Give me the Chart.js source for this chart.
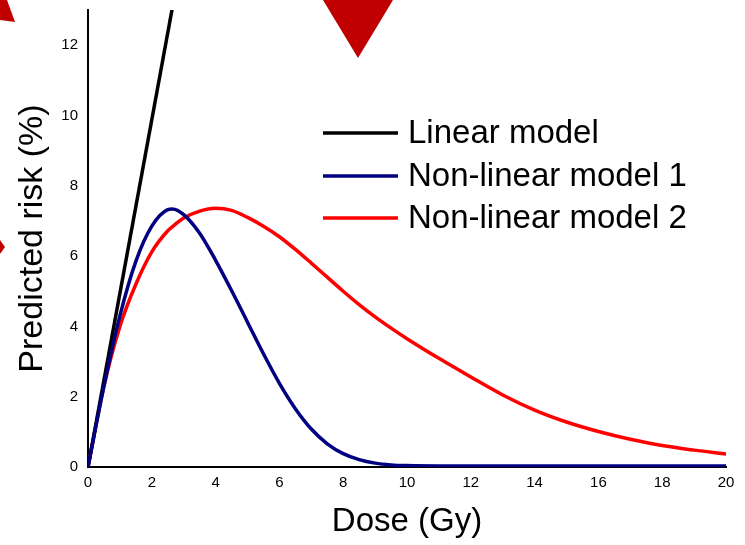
<!DOCTYPE html>
<html>
<head>
<meta charset="utf-8">
<script src="https://cdn.jsdelivr.net/npm/chart.js@4/dist/chart.umd.min.js"></script>
<style>
  html, body { margin: 0; padding: 0; background: #ffffff; }
  #wrap { width: 745px; height: 545px; position: relative; }
  canvas { display: block; }
</style>
</head>
<body>
<div id="wrap"><canvas id="c" width="745" height="545"></canvas></div>
<script>
// ---- Data ----
const doses = [0, 0.5, 1, 1.5, 2, 2.5, 2.65, 3, 3.5, 4, 4.5, 5, 5.5, 6, 6.5, 7, 7.5, 8, 8.5, 9, 9.5, 10, 11, 12, 13, 14, 15, 16, 17, 18, 19, 20];
const nonLinear1Risk = [0, 2.3, 4.3, 5.85, 6.85, 7.32, 7.34, 7.18, 6.65, 5.88, 5.02, 4.12, 3.22, 2.38, 1.66, 1.08, 0.66, 0.38, 0.21, 0.11, 0.06, 0.04, 0.03, 0.03, 0.03, 0.03, 0.03, 0.03, 0.03, 0.03, 0.03, 0.03];
const nonLinear2Risk = [0, 2.3, 4.0, 5.2, 6.12, 6.72, 6.84, 7.08, 7.28, 7.36, 7.30, 7.10, 6.85, 6.55, 6.19, 5.80, 5.40, 5.00, 4.62, 4.27, 3.95, 3.65, 3.09, 2.56, 2.05, 1.62, 1.28, 1.01, 0.79, 0.61, 0.48, 0.37];
const linearDoses = [0, 3];
const linearRisk = [0, 14.82];
const seriesLabels = ['Linear model', 'Non-linear model 1', 'Non-linear model 2'];
const seriesColors = ['#000000', '#000080', '#ff0000'];
const xTickValues = [0, 2, 4, 6, 8, 10, 12, 14, 16, 18, 20];
const yTickValues = [0, 2, 4, 6, 8, 10, 12];
const xTitle = 'Dose (Gy)';
const yTitle = 'Predicted risk (%)';

const toPoints = (xs, ys) => xs.map((x, i) => ({ x: x, y: ys[i] }));

const FONT = "'Liberation Sans', Arial, Helvetica, sans-serif";

const decorPlugin = {
  id: 'decor',
  beforeDraw(chart) {
    const ctx = chart.ctx;
    ctx.save();
    ctx.fillStyle = '#ffffff';
    ctx.fillRect(0, 0, chart.width, chart.height);
    ctx.fillStyle = '#c00000';
    ctx.beginPath();
    ctx.moveTo(0, 0); ctx.lineTo(7, 0); ctx.lineTo(15, 22); ctx.lineTo(0, 20); ctx.closePath();
    ctx.fill();
    ctx.beginPath();
    ctx.moveTo(323, 0); ctx.lineTo(393, 0); ctx.lineTo(358, 58); ctx.closePath();
    ctx.fill();
    ctx.beginPath();
    ctx.moveTo(0, 240); ctx.lineTo(5, 247); ctx.lineTo(0, 254); ctx.closePath();
    ctx.fill();
    ctx.restore();
  },
  afterDraw(chart) {
    const ctx = chart.ctx;
    ctx.save();
    const rows = [133, 176, 218];
    ctx.font = '33px ' + FONT;
    ctx.textBaseline = 'middle';
    ctx.textAlign = 'left';
    seriesLabels.forEach((lab, i) => {
      ctx.strokeStyle = seriesColors[i];
      ctx.lineWidth = 3.5;
      ctx.beginPath();
      ctx.moveTo(323, rows[i]);
      ctx.lineTo(398, rows[i]);
      ctx.stroke();
      ctx.fillStyle = '#000000';
      ctx.fillText(lab, 408, rows[i] + 1);
    });
    ctx.restore();
  }
};

new Chart(document.getElementById('c'), {
  type: 'line',
  data: {
    datasets: [
      { label: seriesLabels[0], data: toPoints(linearDoses, linearRisk), borderColor: seriesColors[0], borderWidth: 3.5, tension: 0, pointRadius: 0, order: 1 },
      { label: seriesLabels[1], data: toPoints(doses, nonLinear1Risk), borderColor: seriesColors[1], borderWidth: 3.5, cubicInterpolationMode: 'monotone', pointRadius: 0, order: 0 },
      { label: seriesLabels[2], data: toPoints(doses, nonLinear2Risk), borderColor: seriesColors[2], borderWidth: 3.5, cubicInterpolationMode: 'monotone', pointRadius: 0, order: 2 }
    ]
  },
  options: {
    responsive: false,
    animation: false,
    devicePixelRatio: 1,
    layout: { padding: { top: 10, right: 19, left: 0, bottom: 0 } },
    plugins: { legend: { display: false }, tooltip: { enabled: false } },
    elements: { line: { fill: false, borderCapStyle: 'butt' } },
    scales: {
      x: {
        type: 'linear', min: 0, max: 20,
        grid: { display: false, drawTicks: false },
        border: { display: true, color: '#000000', width: 2 },
        afterBuildTicks: (s) => { s.ticks = xTickValues.map(v => ({ value: v })); },
        afterFit: (s) => { s.height = 78; s.paddingLeft = 0; s.paddingRight = 0; },
        ticks: { color: '#000000', font: { family: FONT, size: 15 }, padding: 7, maxRotation: 0 },
        title: { display: true, text: xTitle, color: '#000000', font: { family: FONT, size: 33 }, padding: { top: 0, bottom: 3 } }
      },
      y: {
        type: 'linear', min: 0, max: 13,
        grid: { display: false, drawTicks: false },
        border: { display: true, color: '#000000', width: 2 },
        afterBuildTicks: (s) => { s.ticks = yTickValues.map(v => ({ value: v })); },
        afterFit: (s) => { s.width = 88; s.paddingTop = 0; s.paddingBottom = 0; },
        ticks: { color: '#000000', font: { family: FONT, size: 15 }, padding: 10 },
        title: { display: true, text: yTitle, color: '#000000', font: { family: FONT, size: 34 }, padding: { top: 12, bottom: 0 } }
      }
    }
  },
  plugins: [decorPlugin]
});
</script>
</body>
</html>
